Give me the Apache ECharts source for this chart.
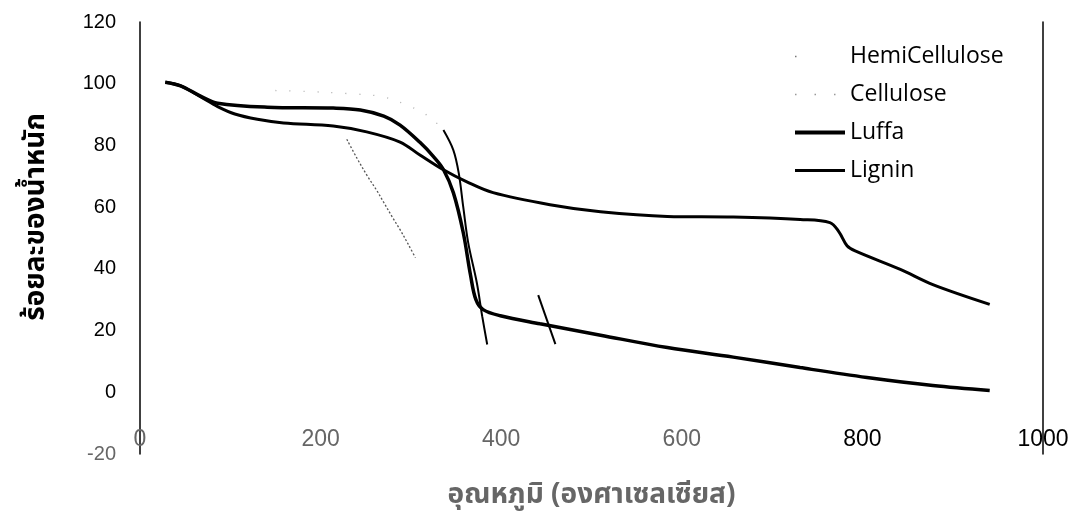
<!DOCTYPE html>
<html>
<head>
<meta charset="utf-8">
<title>TGA</title>
<script src="https://cdn.jsdelivr.net/npm/echarts@6/dist/echarts.min.js"></script>
<style>
  html, body { margin: 0; padding: 0; background: #fff; }
  #chart { width: 1085px; height: 516px; }
</style>
</head>
<body>
<div id="chart"></div>
<script>
// ---------------------------------------------------------------------------
// Data (temperature °C, weight %)
// ---------------------------------------------------------------------------
const xTicks = [0, 200, 400, 600, 800, 1000];

const hemiCellulose = [
  [229, 82], [240, 76], [252, 70], [262, 65.5], [270, 61.5], [280, 56.5], [288, 52.7], [297, 48], [305, 43.6]
];

// faint dotted upper part of cellulose
const celluloseTop = [
  [150, 97.8], [183, 97.5], [230, 96.8], [270, 95.7], [301, 92.4], [314, 90.5], [325, 88.2], [336, 85]
];
// solid steep part of cellulose
const celluloseDrop = [
  [336, 85], [347, 78.5], [353, 71], [358, 60], [363.5, 48.4],
  [373, 35.5], [379, 24.6], [384.5, 15.5]
];
const celluloseTail = [[441, 31.5], [460, 15.6]];

const luffa = [
  [28, 100.5], [45, 99.3], [67, 96], [86, 93.7], [141, 92.4], [214, 92.1], [244, 91.5],
  [270, 89.5], [288, 86.6], [310, 81], [325, 76.4], [336, 72.2], [347, 64.7], [358, 51.7],
  [366, 38], [372, 30], [380, 26.8], [399, 24.8], [443, 22.2], [510, 18.5],
  [584, 14.5], [657, 11.4], [731, 8], [805, 4.8], [878, 2.2], [941, 0.6]
];

const lignin = [
  [28, 100.5], [45, 99.3], [67, 95.8], [86, 92.6], [105, 90.2], [130, 88.5], [159, 87.3], [214, 86.3],
  [251, 84.4], [288, 81.1], [310, 76.9], [336, 72.1], [362, 68.2], [391, 64.7], [454, 60.8],
  [510, 58.5], [584, 57], [657, 56.8], [731, 56], [764, 55], [774, 52],
  [783, 47.5], [792, 45.8], [842, 39.8], [878, 34.9], [941, 28.5]
];

// ---------------------------------------------------------------------------
// Chart
// ---------------------------------------------------------------------------
const chart = echarts.init(document.getElementById("chart"));

const thaiFont = "'Noto Sans Thai', Loma, 'Tlwg Typo', 'Noto Sans', sans-serif";
const numFont  = "'Liberation Sans', Arial, sans-serif";

function lineSeries(name, data, style) {
  return {
    name,
    type: "line",
    data,
    symbol: "none",
    smooth: 0.35,
    lineStyle: style,
    itemStyle: { color: style.color },
    emphasis: { disabled: true },
  };
}

const option = {
  backgroundColor: "#fff",
  animation: false,
  grid: { left: 140, right: 42, top: 22, bottom: 61, containLabel: false },
  legend: {
    orient: "vertical",
    left: 788,
    top: 40,
    itemWidth: 50,
    itemHeight: 14,
    itemGap: 15,
    data: [
      { name: "HemiCellulose", lineStyle: { color: "#777", width: 1.5, type: [1.5, 50] } },
      { name: "Cellulose", lineStyle: { color: "#999", width: 1.5, type: [1.5, 18] } },
      { name: "Luffa", lineStyle: { color: "#000", width: 4 } },
      { name: "Lignin", lineStyle: { color: "#000", width: 3 } },
    ],
    itemStyle: { opacity: 0 },
    textStyle: { fontFamily: "'Open Sans', sans-serif", fontSize: 23, color: "#000" },
  },
  xAxis: {
    type: "value",
    min: 0,
    max: 1000,
    interval: 200,
    position: "bottom",
    axisLine: { show: false, onZero: false },
    axisTick: { show: false },
    splitLine: { show: false },
    axisLabel: {
      margin: -26,
      formatter: (v) => (v >= 800 ? `{b|${v}}` : `{g|${v}}`),
      rich: {
        g: { color: "#666", fontSize: 23, fontFamily: numFont },
        b: { color: "#000", fontSize: 23, fontFamily: numFont },
      },
    },
    name: "อุณหภูมิ (องศาเซลเซียส)",
    nameLocation: "middle",
    nameGap: 29,
    nameTextStyle: { color: "#666", fontSize: 28, fontWeight: "bold", fontFamily: thaiFont },
  },
  yAxis: [
    {
      type: "value",
      min: -20,
      max: 120,
      interval: 20,
      axisLine: { show: true, lineStyle: { color: "#000", width: 1.5 } },
      axisTick: { show: false },
      splitLine: { show: false },
      axisLabel: {
        margin: 24,
        formatter: (v) => (v < 0 ? `{g|${v}}` : `{b|${v}}`),
        rich: {
          g: { color: "#666", fontSize: 20, fontFamily: numFont },
          b: { color: "#000", fontSize: 20, fontFamily: numFont },
        },
      },
      name: "ร้อยละของน้ำหนัก",
      nameLocation: "middle",
      nameGap: 88,
      nameTextStyle: { color: "#000", fontSize: 28, fontWeight: "bold", fontFamily: thaiFont, padding: [0, 0, 0, 42] },
    },
    {
      type: "value",
      position: "right",
      min: -20,
      max: 120,
      interval: 20,
      axisLine: { show: true, lineStyle: { color: "#000", width: 1.5 } },
      axisTick: { show: false },
      axisLabel: { show: false },
      splitLine: { show: false },
    },
  ],
  series: [
    lineSeries("HemiCellulose", hemiCellulose, { color: "#555", width: 1.3, type: [2, 2] }),
    lineSeries("Cellulose", celluloseTop, { color: "#aaa", width: 1.3, type: [1, 13] }),
    lineSeries("Luffa", luffa, { color: "#000", width: 3.5 }),
    lineSeries("Lignin", lignin, { color: "#000", width: 3 }),
    lineSeries("Cellulose", celluloseDrop, { color: "#000", width: 2 }),
    lineSeries("Cellulose", celluloseTail, { color: "#000", width: 2 }),
  ],
};

chart.setOption(option);
</script>
</body>
</html>
